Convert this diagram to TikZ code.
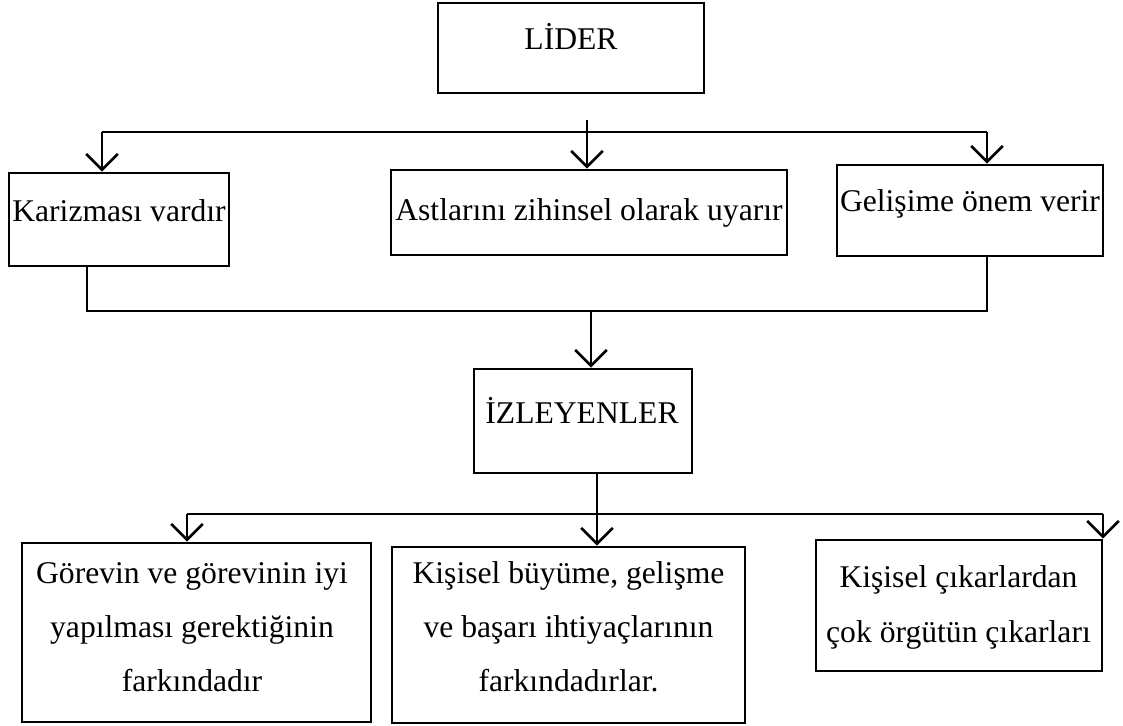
\documentclass[tikz,border=0pt]{standalone}
\usepackage{fontspec}
\setmainfont{Liberation Serif}
\usetikzlibrary{arrows.meta}

\tikzset{
  kutu/.style={draw, line width=1.5pt, inner sep=0pt},
  yazi/.style={font=\fontsize{18}{30.6}\selectfont, align=center, anchor=base, inner sep=0pt},
  ok/.style={-{Straight Barb[length=9pt, width=18pt, line width=1.5pt]}},
}

\begin{document}
\begin{tikzpicture}[x=0.02cm, y=-0.02cm, line width=1.5pt]
    \useasboundingbox (0, 0) rectangle (1123, 726);

    % Boxes (positions in px, y grows downward; sizes in cm)
    \node[kutu, minimum width=5.32cm, minimum height=1.8cm] (lider) at (571, 48) {};
    \node[kutu, minimum width=4.4cm, minimum height=1.86cm] (kar) at (119, 219.5) {};
    \node[kutu, minimum width=7.92cm, minimum height=1.7cm] (ast) at (589, 212.5) {};
    \node[kutu, minimum width=5.32cm, minimum height=1.82cm] (gel) at (970, 210.5) {};
    \node[kutu, minimum width=4.36cm, minimum height=2.08cm] (izl) at (583, 421) {};
    \node[kutu, minimum width=6.98cm, minimum height=3.58cm] (gor) at (196.5, 632.5) {};
    \node[kutu, minimum width=7.06cm, minimum height=3.52cm] (kis) at (568.5, 635) {};
    \node[kutu, minimum width=5.72cm, minimum height=2.62cm] (cik) at (959, 605.5) {};

    % Texts (base = last line)
    \node[yazi] (liderT) at (571, 50) {LİDER};
    \node[yazi] (karT) at (119, 222) {Karizması vardır};
    \node[yazi] (astT) at (589, 221) {Astlarını zihinsel olarak uyarır};
    \node[yazi] (gelT) at (970, 212) {Gelişime önem verir};
    \node[yazi] (izlT) at (582, 423) {İZLEYENLER};
    \node[yazi] (gorT) at (192, 691) {Görevin ve görevinin iyi\\yapılması gerektiğinin\\farkındadır};
    \node[yazi] (kisT) at (568.5, 691) {Kişisel büyüme, gelişme\\ve başarı ihtiyaçlarının\\farkındadırlar.};
    \node[yazi, font=\fontsize{18}{31.2}\selectfont] (cikT) at (958.5, 642) {Kişisel çıkarlardan\\çok örgütün çıkarları};

    % Lider -> first row
    \coordinate (ust) at (587, 120);
    \coordinate (bar1l) at (102, 132);
    \coordinate (bar1r) at (987, 132);
    \draw (bar1l) -- (bar1r);
    \draw[ok] (bar1l) -- (bar1l |- kar.north);
    \draw[ok] (ust) -- (ust |- ast.north);
    \draw[ok] (bar1r) -- (bar1r |- gel.north);

    % First row -> izleyenler
    \coordinate (bar2l) at (87, 311);
    \coordinate (bar2r) at (987, 311);
    \coordinate (bar2m) at (591, 311);
    \draw (bar2l |- kar.south) -- (bar2l) -- (bar2r) -- (bar2r |- gel.south);
    \draw[ok] (bar2m) -- (bar2m |- izl.north);

    % Izleyenler -> last row
    \coordinate (bar3l) at (187, 514);
    \coordinate (bar3r) at (1103, 514);
    \coordinate (bar3m) at (597, 514);
    \draw (bar3l) -- (bar3r);
    \draw[ok] (bar3m |- izl.south) -- (bar3m |- kis.north);
    \draw[ok] (bar3l) -- (bar3l |- gor.north);
    \draw[ok] (bar3r) -- (bar3r |- cik.north);
\end{tikzpicture}
\end{document}
